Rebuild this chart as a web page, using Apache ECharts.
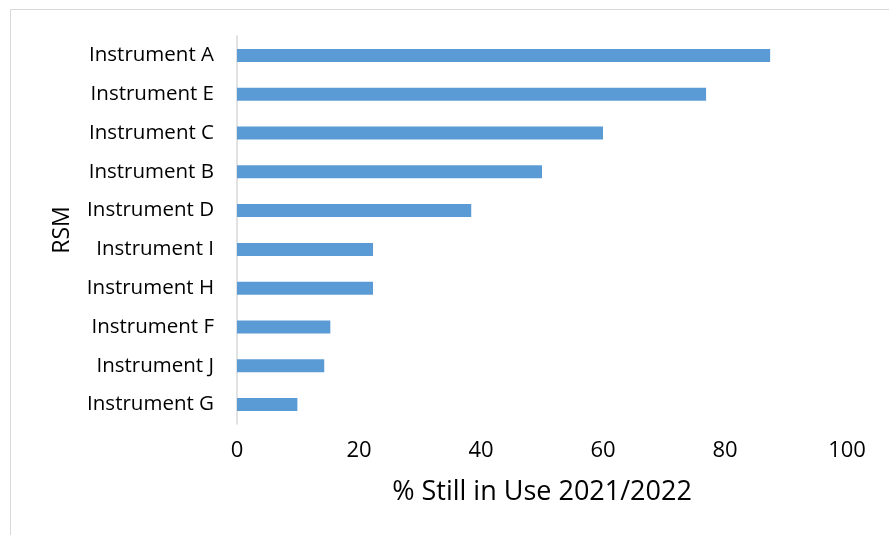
<!DOCTYPE html>
<html lang="en">
<head>
  <meta charset="UTF-8">
  <title>RSM still in use</title>
  <script src="https://cdn.jsdelivr.net/npm/echarts@6/dist/echarts.min.js"></script>
  <style>
    html, body { margin: 0; padding: 0; background: #fff; }
    #main { width: 889px; height: 535px; }
  </style>
</head>
<body>
<div id="main"></div>
<script>
  // categories listed bottom to top (category axis starts at the bottom)
  var instruments = ['Instrument G', 'Instrument J', 'Instrument F', 'Instrument H', 'Instrument I',
                     'Instrument D', 'Instrument B', 'Instrument C', 'Instrument E', 'Instrument A']
  var stillInUse = [9.9, 14.3, 15.3, 22.3, 22.3, 38.4, 50.0, 60.0, 76.9, 87.4]
  var xTicks = [0, 20, 40, 60, 80, 100]

  var font = '"Open Sans", Lato, sans-serif'
  var chart = echarts.init(document.getElementById('main'))

  chart.setOption({
    animation: false,
    backgroundColor: '#fff',
    graphic: [{
      type: 'rect',
      shape: { x: 10.5, y: 9.5, width: 900, height: 540 },
      style: { fill: 'none', stroke: '#d9d9d9', lineWidth: 1 },
      silent: true
    }],
    grid: { left: 237, right: 42, top: 36, bottom: 111 },
    xAxis: {
      type: 'value',
      min: xTicks[0],
      max: xTicks[xTicks.length - 1],
      interval: 20,
      name: '% Still in Use 2021/2022',
      nameLocation: 'middle',
      nameGap: 55,
      nameTextStyle: { fontFamily: font, fontSize: 27, color: '#000' },
      axisLine: { show: false },
      axisTick: { show: false },
      splitLine: { show: false },
      axisLabel: { fontFamily: font, fontSize: 22, color: '#000', margin: 16 }
    },
    yAxis: {
      type: 'category',
      data: instruments,
      name: 'RSM',
      nameLocation: 'middle',
      nameGap: 163,
      nameRotate: 90,
      nameTextStyle: { fontFamily: font, fontSize: 23, color: '#000' },
      axisLine: { show: true, lineStyle: { color: '#d9d9d9', width: 1.5 } },
      axisTick: { show: false },
      axisLabel: { fontFamily: font, fontSize: 20.5, color: '#000', margin: 23 }
    },
    series: [{
      type: 'bar',
      data: stillInUse,
      barWidth: 13,
      itemStyle: { color: '#5b9bd5' }
    }]
  })
</script>
</body>
</html>
